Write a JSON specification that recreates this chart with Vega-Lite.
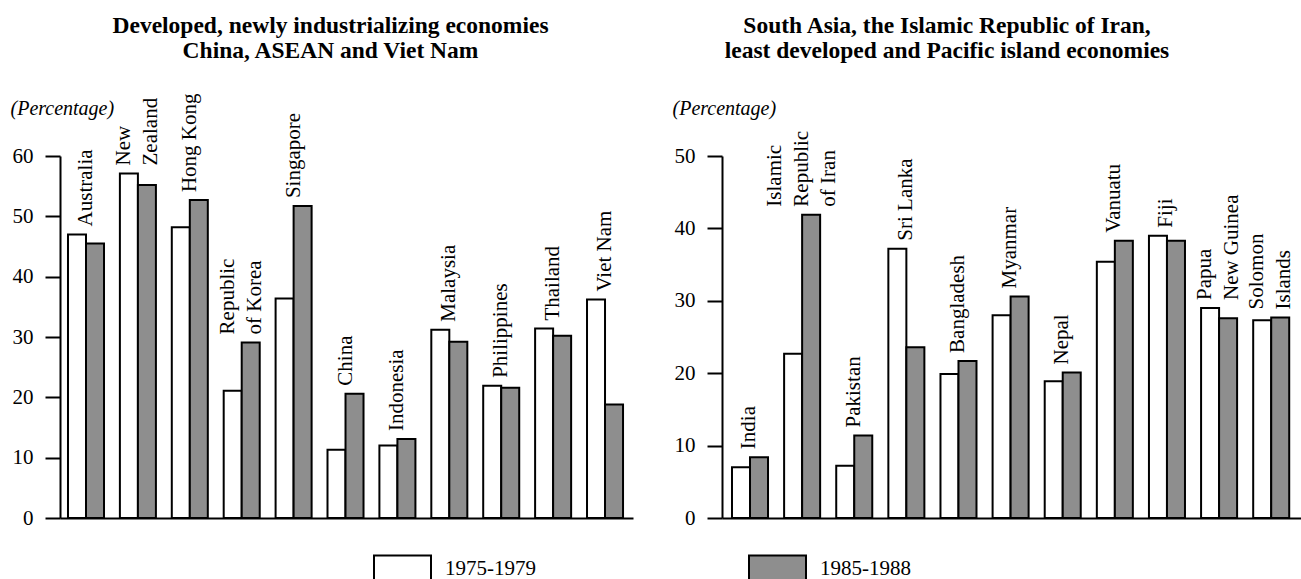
{
  "$schema": "https://vega.github.io/schema/vega-lite/v6.json",
  "padding": {"left": 10, "top": 13, "right": 0, "bottom": 0},
  "config": {
    "font": "Liberation Serif",
    "view": {"stroke": null},
    "title": {"color": "black", "fontSize": 23.5, "fontWeight": "bold", "lineHeight": 25, "anchor": "middle"},
    "axis": {"labelColor": "black", "domainColor": "black", "tickColor": "black", "titleColor": "black", "grid": false}
  },
  "datasets": {
    "left": [
      {"country": "Australia", "label": "Australia", "period": "1975-1979", "value": 47.0},
      {"country": "Australia", "label": "Australia", "period": "1985-1988", "value": 45.5},
      {"country": "New Zealand", "label": "New\nZealand", "period": "1975-1979", "value": 57.1},
      {"country": "New Zealand", "label": "New\nZealand", "period": "1985-1988", "value": 55.2},
      {"country": "Hong Kong", "label": "Hong Kong", "period": "1975-1979", "value": 48.2},
      {"country": "Hong Kong", "label": "Hong Kong", "period": "1985-1988", "value": 52.7},
      {"country": "Republic of Korea", "label": "Republic\nof Korea", "period": "1975-1979", "value": 21.1},
      {"country": "Republic of Korea", "label": "Republic\nof Korea", "period": "1985-1988", "value": 29.1},
      {"country": "Singapore", "label": "Singapore", "period": "1975-1979", "value": 36.4},
      {"country": "Singapore", "label": "Singapore", "period": "1985-1988", "value": 51.7},
      {"country": "China", "label": "China", "period": "1975-1979", "value": 11.3},
      {"country": "China", "label": "China", "period": "1985-1988", "value": 20.6},
      {"country": "Indonesia", "label": "Indonesia", "period": "1975-1979", "value": 12.0},
      {"country": "Indonesia", "label": "Indonesia", "period": "1985-1988", "value": 13.1},
      {"country": "Malaysia", "label": "Malaysia", "period": "1975-1979", "value": 31.2},
      {"country": "Malaysia", "label": "Malaysia", "period": "1985-1988", "value": 29.2},
      {"country": "Philippines", "label": "Philippines", "period": "1975-1979", "value": 21.9},
      {"country": "Philippines", "label": "Philippines", "period": "1985-1988", "value": 21.6},
      {"country": "Thailand", "label": "Thailand", "period": "1975-1979", "value": 31.4},
      {"country": "Thailand", "label": "Thailand", "period": "1985-1988", "value": 30.2},
      {"country": "Viet Nam", "label": "Viet Nam", "period": "1975-1979", "value": 36.2},
      {"country": "Viet Nam", "label": "Viet Nam", "period": "1985-1988", "value": 18.8}
    ],
    "right": [
      {"country": "India", "label": "India", "period": "1975-1979", "value": 7.0},
      {"country": "India", "label": "India", "period": "1985-1988", "value": 8.4},
      {"country": "Islamic Republic of Iran", "label": "Islamic\nRepublic\nof Iran", "period": "1975-1979", "value": 22.7},
      {"country": "Islamic Republic of Iran", "label": "Islamic\nRepublic\nof Iran", "period": "1985-1988", "value": 41.9},
      {"country": "Pakistan", "label": "Pakistan", "period": "1975-1979", "value": 7.2},
      {"country": "Pakistan", "label": "Pakistan", "period": "1985-1988", "value": 11.4},
      {"country": "Sri Lanka", "label": "Sri Lanka", "period": "1975-1979", "value": 37.2},
      {"country": "Sri Lanka", "label": "Sri Lanka", "period": "1985-1988", "value": 23.6},
      {"country": "Bangladesh", "label": "Bangladesh", "period": "1975-1979", "value": 19.9},
      {"country": "Bangladesh", "label": "Bangladesh", "period": "1985-1988", "value": 21.7},
      {"country": "Myanmar", "label": "Myanmar", "period": "1975-1979", "value": 28.0},
      {"country": "Myanmar", "label": "Myanmar", "period": "1985-1988", "value": 30.6},
      {"country": "Nepal", "label": "Nepal", "period": "1975-1979", "value": 18.9},
      {"country": "Nepal", "label": "Nepal", "period": "1985-1988", "value": 20.1},
      {"country": "Vanuatu", "label": "Vanuatu", "period": "1975-1979", "value": 35.4},
      {"country": "Vanuatu", "label": "Vanuatu", "period": "1985-1988", "value": 38.3},
      {"country": "Fiji", "label": "Fiji", "period": "1975-1979", "value": 39.0},
      {"country": "Fiji", "label": "Fiji", "period": "1985-1988", "value": 38.3},
      {"country": "Papua New Guinea", "label": "Papua\nNew Guinea", "period": "1975-1979", "value": 29.0},
      {"country": "Papua New Guinea", "label": "Papua\nNew Guinea", "period": "1985-1988", "value": 27.6},
      {"country": "Solomon Islands", "label": "Solomon\nIslands", "period": "1975-1979", "value": 27.3},
      {"country": "Solomon Islands", "label": "Solomon\nIslands", "period": "1985-1988", "value": 27.7}
    ]
  },
  "spacing": 39,
  "resolve": {"scale": {"color": "shared"}, "legend": {"color": "shared"}},
  "hconcat": [
    {
      "width": 573,
      "height": 362,
      "data": {"name": "left"},
      "title": {"text": ["Developed, newly industrializing economies", "China, ASEAN and Viet Nam"], "dx": -16, "offset": 31},
      "encoding": {
        "x": {"field": "country", "type": "nominal", "sort": null,
              "scale": {"paddingInner": 0.306, "paddingOuter": 0.173, "align": 0.445},
              "axis": {"labels": false, "ticks": false, "title": null, "domainWidth": 2}}
      },
      "layer": [
        {
          "mark": {"type": "bar", "stroke": "black", "strokeWidth": 2},
          "encoding": {
            "xOffset": {"field": "period", "type": "nominal", "sort": null, "scale": {"paddingInner": 0, "paddingOuter": 0}},
            "y": {"field": "value", "type": "quantitative",
                  "scale": {"domain": [0, 60], "nice": false},
                  "axis": {"values": [0, 10, 20, 30, 40, 50, 60], "tickSize": 15, "tickWidth": 2, "domainWidth": 2,
                           "labelFontSize": 21, "labelPadding": 12,
                           "title": "(Percentage)", "titleAngle": 0, "titleAlign": "left", "titleBaseline": "alphabetic",
                           "titleX": -50, "titleY": -42, "titleFontStyle": "italic", "titleFontWeight": "normal", "titleFontSize": 20}},
            "color": {"field": "period", "type": "nominal",
                      "scale": {"domain": ["1975-1979", "1985-1988"], "range": ["#ffffff", "#8e8e8e"]},
                      "legend": {"title": null, "orient": "none", "legendX": 313, "legendY": 383, "direction": "horizontal",
                                 "symbolType": "M-1,-0.46H1V0.46H-1Z", "symbolSize": 3249, "symbolStrokeColor": "black",
                                 "symbolStrokeWidth": 2, "symbolOpacity": 1, "labelFontSize": 21, "labelOffset": 13,
                                 "labelColor": "black", "columnPadding": 209}}
          }
        },
        {
          "transform": [{"filter": "split(datum.label, '\\n').length == 1"}],
          "mark": {"type": "text", "angle": 270, "align": "left", "baseline": "middle", "dx": 8, "fontSize": 21, "lineHeight": 27, "lineBreak": "\n", "color": "black"},
          "encoding": {
            "y": {"aggregate": "max", "field": "value", "type": "quantitative"},
            "text": {"field": "label", "type": "nominal"}
          }
        },
        {
          "transform": [{"filter": "split(datum.label, '\\n').length == 2"}],
          "mark": {"type": "text", "angle": 270, "align": "left", "baseline": "middle", "dx": 8, "dy": -13.5, "fontSize": 21, "lineHeight": 27, "lineBreak": "\n", "color": "black"},
          "encoding": {
            "y": {"aggregate": "max", "field": "value", "type": "quantitative"},
            "text": {"field": "label", "type": "nominal"}
          }
        }
      ]
    },
    {
      "width": 590,
      "height": 362,
      "data": {"name": "right"},
      "title": {"text": ["South Asia, the Islamic Republic of Iran,", "least developed and Pacific island economies"], "dx": -70, "offset": 36},
      "encoding": {
        "x": {"field": "country", "type": "nominal", "sort": null,
              "scale": {"paddingInner": 0.33, "paddingOuter": 0.325, "align": 0.295},
              "axis": {"labels": false, "ticks": false, "title": null, "domainWidth": 2}}
      },
      "layer": [
        {
          "mark": {"type": "bar", "stroke": "black", "strokeWidth": 2},
          "encoding": {
            "xOffset": {"field": "period", "type": "nominal", "sort": null, "scale": {"paddingInner": 0, "paddingOuter": 0}},
            "y": {"field": "value", "type": "quantitative",
                  "scale": {"domain": [0, 50], "nice": false},
                  "axis": {"values": [0, 10, 20, 30, 40, 50], "tickSize": 15, "tickWidth": 2, "domainWidth": 2,
                           "labelFontSize": 21, "labelPadding": 12,
                           "title": "(Percentage)", "titleAngle": 0, "titleAlign": "left", "titleBaseline": "alphabetic",
                           "titleX": -50, "titleY": -42, "titleFontStyle": "italic", "titleFontWeight": "normal", "titleFontSize": 20}},
            "color": {"field": "period", "type": "nominal"}
          }
        },
        {
          "transform": [{"filter": "split(datum.label, '\\n').length == 1"}],
          "mark": {"type": "text", "angle": 270, "align": "left", "baseline": "middle", "dx": 8, "fontSize": 21, "lineHeight": 27, "lineBreak": "\n", "color": "black"},
          "encoding": {
            "y": {"aggregate": "max", "field": "value", "type": "quantitative"},
            "text": {"field": "label", "type": "nominal"}
          }
        },
        {
          "transform": [{"filter": "split(datum.label, '\\n').length == 2"}],
          "mark": {"type": "text", "angle": 270, "align": "left", "baseline": "middle", "dx": 8, "dy": -13.5, "fontSize": 21, "lineHeight": 27, "lineBreak": "\n", "color": "black"},
          "encoding": {
            "y": {"aggregate": "max", "field": "value", "type": "quantitative"},
            "text": {"field": "label", "type": "nominal"}
          }
        },
        {
          "transform": [{"filter": "split(datum.label, '\\n').length == 3"}],
          "mark": {"type": "text", "angle": 270, "align": "left", "baseline": "middle", "dx": 8, "dy": -27, "fontSize": 21, "lineHeight": 27, "lineBreak": "\n", "color": "black"},
          "encoding": {
            "y": {"aggregate": "max", "field": "value", "type": "quantitative"},
            "text": {"field": "label", "type": "nominal"}
          }
        }
      ]
    }
  ]
}
